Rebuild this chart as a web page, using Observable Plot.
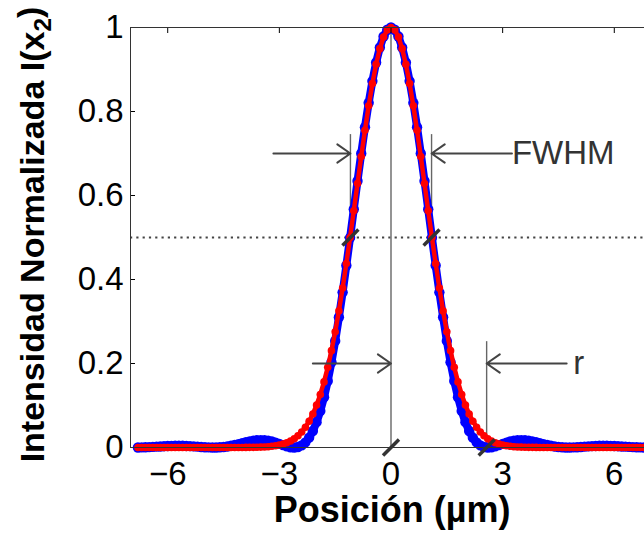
<!DOCTYPE html>
<html><head><meta charset="utf-8">
<script src="https://cdn.jsdelivr.net/npm/d3@7"></script>
<script src="https://cdn.jsdelivr.net/npm/@observablehq/plot@0.6"></script>
<style>
html,body{margin:0;padding:0;background:#fff;overflow:hidden;width:644px;height:534px}
#chart svg{max-width:none !important;display:block}
</style>
</head><body><div id="chart"></div>
<script>
// sample positions (µm)
const posX = [
-6.8,-6.7,-6.6,-6.5,-6.4,-6.3,-6.2,-6.1,-6.0,-5.9,-5.8,-5.7,-5.6,-5.5,-5.4,-5.3,-5.2,-5.1,-5.0,-4.9,
-4.8,-4.7,-4.6,-4.5,-4.4,-4.3,-4.2,-4.1,-4.0,-3.9,-3.8,-3.7,-3.6,-3.5,-3.4,-3.3,-3.2,-3.1,-3.0,-2.9,
-2.8,-2.7,-2.6,-2.5,-2.4,-2.3,-2.2,-2.1,-2.0,-1.9,-1.8,-1.7,-1.6,-1.5,-1.4,-1.3,-1.2,-1.1,-1.0,-0.9,
-0.8,-0.7,-0.6,-0.5,-0.4,-0.3,-0.2,-0.1,0,
0.1,0.2,0.3,0.4,0.5,0.6,0.7,0.8,0.9,1.0,1.1,1.2,1.3,1.4,1.5,1.6,1.7,1.8,1.9,2.0,
2.1,2.2,2.3,2.4,2.5,2.6,2.7,2.8,2.9,3.0,3.1,3.2,3.3,3.4,3.5,3.6,3.7,3.8,3.9,4.0,
4.1,4.2,4.3,4.4,4.5,4.6,4.7,4.8,4.9,5.0,5.1,5.2,5.3,5.4,5.5,5.6,5.7,5.8,5.9,6.0,
6.1,6.2,6.3,6.4,6.5,6.6,6.7,6.8
];
// blue series (dots)
const blueY = [
0.0001,0.0003,0.0006,0.0010,0.0014,0.0020,0.0025,0.0031,0.0034,0.0039,0.0041,0.0042,0.0040,0.0037,0.0032,0.0026,0.0020,0.0013,0.0007,0.0002,
0.0000,0.0001,0.0005,0.0013,0.0025,0.0041,0.0060,0.0081,0.0103,0.0124,0.0144,0.0160,0.0171,0.0175,0.0172,0.0160,0.0142,0.0116,0.0087,0.0056,
0.0028,0.0007,0.0000,0.0012,0.0051,0.0123,0.0234,0.0393,0.0603,0.0870,0.1196,0.1583,0.2030,0.2537,0.3101,0.3695,0.4334,0.4996,0.5673,0.6346,
0.7002,0.7627,0.8207,0.8724,0.9167,0.9524,0.9786,0.9946,1.0000,
0.9946,0.9786,0.9524,0.9167,0.8724,0.8207,0.7627,0.7002,0.6346,0.5673,0.4996,0.4334,0.3695,0.3101,0.2537,0.2030,0.1583,0.1196,0.0870,0.0603,
0.0393,0.0234,0.0123,0.0051,0.0012,0.0000,0.0007,0.0028,0.0056,0.0087,0.0116,0.0142,0.0160,0.0172,0.0175,0.0171,0.0160,0.0144,0.0124,0.0103,
0.0081,0.0060,0.0041,0.0025,0.0013,0.0005,0.0001,0.0000,0.0002,0.0007,0.0013,0.0020,0.0026,0.0032,0.0037,0.0040,0.0042,0.0041,0.0039,0.0034,
0.0031,0.0025,0.0020,0.0014,0.0010,0.0006,0.0003,0.0001
];
// red series (line)
const redY = [
0,0,0,0,0,0,0,0,0,0,0,0,0,0,0,0,0,0,0,0,
0,0,0,0,0,0,0,0.0001,0.0001,0.0002,0.0003,0.0004,0.0006,0.0009,0.0013,0.0019,0.0028,0.0041,0.0058,0.0081,
0.0112,0.0153,0.0208,0.0278,0.0368,0.0482,0.0624,0.0799,0.1010,0.1263,0.1562,0.1909,0.2306,0.2754,0.3252,0.3797,0.4381,0.4999,0.5638,0.6287,
0.6930,0.7552,0.8136,0.8665,0.9124,0.9497,0.9773,0.9943,1.0000,
0.9943,0.9773,0.9497,0.9124,0.8665,0.8136,0.7552,0.6930,0.6287,0.5638,0.4999,0.4381,0.3797,0.3252,0.2754,0.2306,0.1909,0.1562,0.1263,0.1010,
0.0799,0.0624,0.0482,0.0368,0.0278,0.0208,0.0153,0.0112,0.0081,0.0058,0.0041,0.0028,0.0019,0.0013,0.0009,0.0006,0.0004,0.0003,0.0002,0.0001,
0.0001,0,0,0,0,0,0,0,0,0,0,0,0,0,0,0,0,0,0,0,
0,0,0,0,0,0,0,0
];
const xTicks = [-6, -3, 0, 3, 6];
const yTicks = [0, 0.2, 0.4, 0.6, 0.8, 1];
const halfLevel = [0.5];
const guideX = [0, -1.09, 1.09, 2.57];
const guideY1 = [0, 0.5, 0.5, 0];
const guideY2 = [1, 0.745, 0.745, 0.252];
const arrowX1 = [-3.16, 3.25, -2.1, 4.72];
const arrowX2 = [-1.09, 1.09, 0, 2.57];
const arrowY = [0.70, 0.70, 0.2, 0.2];
const slashX = [-1.09, 1.09, 0, 2.57];
const slashY = [0.5, 0.5, 0, 0];
const noteLabels = ["FWHM", "r"];
const noteX = [3.25, 4.9];
const noteY = [0.70, 0.20];
const xLabel = "Posición (µm)";
const yLabel = "Intensidad Normalizada I(x2)";

const pts = posX.map((x, i) => ({x, b: blueY[i], r: redY[i]}));
const slash = {draw(ctx, size) { const s = Math.sqrt(size) / 2; ctx.moveTo(-s, s); ctx.lineTo(s, -s); }};
const fmtX = d => d < 0 ? "\u2212" + (-d) : String(d);
const FONT = "'Liberation Sans', Arial, Helvetica, sans-serif";

const chart = Plot.plot({
  width: 652, height: 534,
  marginLeft: 130, marginRight: 1, marginTop: 27, marginBottom: 87,
  x: {domain: [-7, 7]},
  y: {domain: [0, 1]},
  style: {fontFamily: FONT, fontSize: "33px", color: "#000", background: "#fff"},
  marks: [
    Plot.ruleY(halfLevel, {stroke: "#444", strokeWidth: 2.2, strokeDasharray: "2.2,4.1"}),
    Plot.ruleX(guideX, {x: d => d, y1: (d, i) => guideY1[i], y2: (d, i) => guideY2[i], stroke: "#666", strokeWidth: 1.4}),
    Plot.line(pts, {x: "x", y: "b", stroke: "#0000ff", strokeWidth: 8}),
    Plot.dot(pts, {x: "x", y: "b", fill: "#0000ff", r: 5.2}),
    Plot.line(pts, {x: "x", y: "r", stroke: "#ff0000", strokeWidth: 4.5}),
    Plot.dot(pts, {x: "x", y: "r", fill: "#ff0000", r: 3.8}),
    Plot.dot(slashX, {x: d => d, y: (d, i) => slashY[i], symbol: slash, r: 9, fill: "none", stroke: "#333", strokeWidth: 3.5}),
    Plot.arrow(arrowY, {x1: (d, i) => arrowX1[i], x2: (d, i) => arrowX2[i], y1: d => d, y2: d => d, stroke: "#444", strokeWidth: 2, headLength: 12, headAngle: 70}),
    Plot.text(noteLabels, {x: (d, i) => noteX[i], y: (d, i) => noteY[i], text: d => d, textAnchor: "start", lineAnchor: "middle", fontSize: 33, fill: "#333"}),
    // inward ticks
    Plot.axisY(yTicks, {anchor: "left", tickSize: 5, dx: 5, tickFormat: () => "", label: null}),
    Plot.axisX(xTicks, {anchor: "top", tickSize: 5, dy: 5, tickFormat: () => "", label: null}),
    // tick labels
    Plot.axisY(yTicks, {anchor: "left", tickSize: 0, tickPadding: 7, tickFormat: d => String(d), label: null, fontSize: 33}),
    Plot.axisX(xTicks, {anchor: "bottom", tickSize: 0, tickPadding: 14, tickFormat: fmtX, label: null, fontSize: 33}),
    Plot.frame({stroke: "#333"}),
    Plot.text([yLabel], {frameAnchor: "left", dx: -87, dy: -3, rotate: -90, lineAnchor: "bottom", textAnchor: "middle", fontWeight: "bold", fontSize: 34, fill: "#000"}),
    Plot.text([xLabel], {frameAnchor: "bottom", dx: 1, dy: 74, lineAnchor: "bottom", textAnchor: "middle", fontWeight: "bold", fontSize: 36, fill: "#000"})
  ]
});
chart.style.maxWidth = "none";
document.getElementById("chart").appendChild(chart);

// subscript in the y label
d3.select(chart).selectAll("text").each(function() {
  if (this.textContent === yLabel) {
    const t = d3.select(this);
    t.text("");
    t.append("tspan").text("Intensidad Normalizada I(x");
    t.append("tspan").attr("dy", "0.3em").attr("font-size", "72%").text("2");
    t.append("tspan").attr("dy", "-0.3em").text(")");
  }
});
</script>
</body></html>
